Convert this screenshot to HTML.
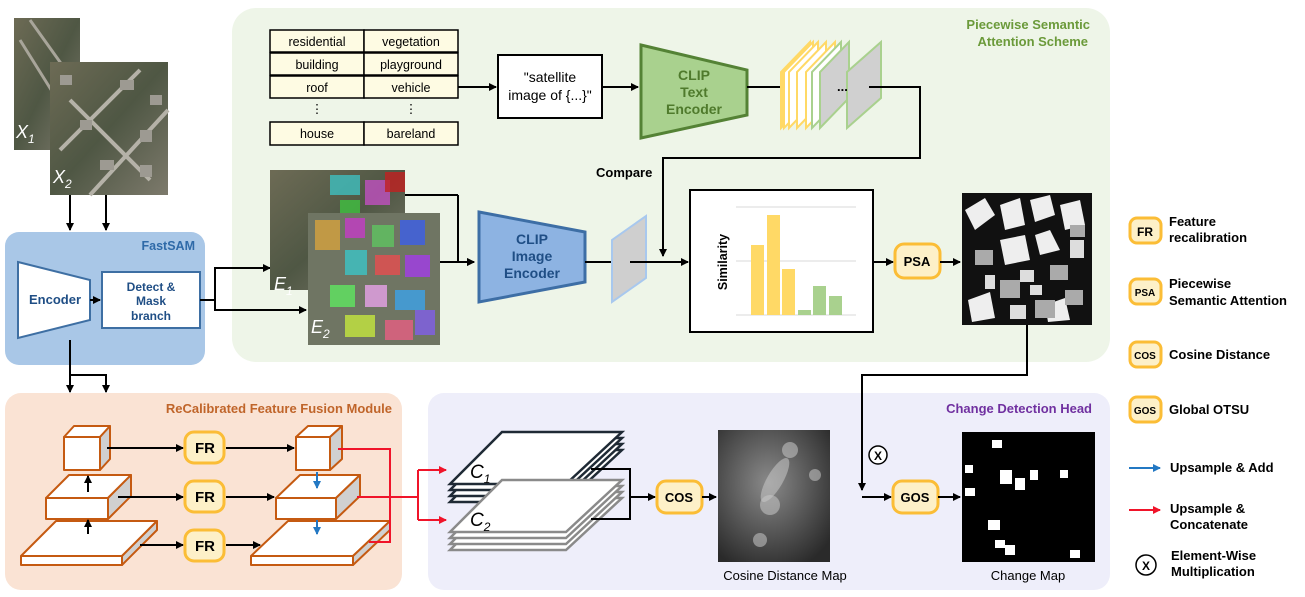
<!DOCTYPE html>
<html><head><meta charset="utf-8"><style>
body{margin:0;background:#fff}
svg{display:block}
text{font-family:"Liberation Sans",sans-serif}
.b{font-weight:bold}
</style></head><body>
<svg width="1305" height="597" viewBox="0 0 1305 597" xmlns="http://www.w3.org/2000/svg">
<defs>
<marker id="ak" markerWidth="8" markerHeight="8" refX="7" refY="4" orient="auto" markerUnits="userSpaceOnUse"><path d="M0,0 L8,4 L0,8z" fill="#000"/></marker>
<marker id="ar" markerWidth="8" markerHeight="8" refX="7" refY="4" orient="auto" markerUnits="userSpaceOnUse"><path d="M0,0 L8,4 L0,8z" fill="#f0142a"/></marker>
<marker id="ab" markerWidth="8" markerHeight="8" refX="7" refY="4" orient="auto" markerUnits="userSpaceOnUse"><path d="M0,0 L8,4 L0,8z" fill="#2378c3"/></marker>
<radialGradient id="cg" cx="0.45" cy="0.4" r="0.7"><stop offset="0" stop-color="#8a8a8a"/><stop offset="1" stop-color="#2a2a2a"/></radialGradient>
<linearGradient id="sat" x1="0" y1="0" x2="1" y2="1"><stop offset="0" stop-color="#6d6b55"/><stop offset="0.5" stop-color="#4f5744"/><stop offset="1" stop-color="#7d7a6c"/></linearGradient>
</defs>

<rect x="232" y="8" width="878" height="354" rx="24" fill="#eef5e8"/>
<rect x="5" y="232" width="200" height="133" rx="14" fill="#a9c7e7"/>
<rect x="5" y="393" width="397" height="197" rx="16" fill="#fae3d4"/>
<rect x="428" y="393" width="682" height="197" rx="16" fill="#eeeefa"/>

<text x="1090" y="29" text-anchor="end" class="b" font-size="13" fill="#6b9a3a">Piecewise Semantic</text>
<text x="1088" y="46" text-anchor="end" class="b" font-size="13" fill="#6b9a3a">Attention Scheme</text>
<text x="195" y="250" text-anchor="end" class="b" font-size="12.5" fill="#2f6aa8">FastSAM</text>
<text x="392" y="413" text-anchor="end" class="b" font-size="13" fill="#c0652a">ReCalibrated Feature Fusion Module</text>
<text x="1092" y="413" text-anchor="end" class="b" font-size="13" fill="#7030a0">Change Detection Head</text>

<rect x="14" y="18" width="66" height="132" fill="url(#sat)"/>
<path d="M20 40 L70 120 M30 20 L80 90" stroke="#a8a59a" stroke-width="3"/>
<text x="16" y="138" font-size="18" font-style="italic" fill="#fff" font-family="Liberation Serif">X<tspan font-size="12" dy="5">1</tspan></text>
<rect x="50" y="62" width="118" height="133" fill="url(#sat)"/>
<path d="M60 150 L140 70 M90 195 L168 110 M70 100 L150 180" stroke="#b5b2a8" stroke-width="4"/>
<g fill="#9d9a92"><rect x="120" y="80" width="14" height="10"/><rect x="140" y="130" width="12" height="12"/><rect x="80" y="120" width="12" height="10"/><rect x="100" y="160" width="14" height="10"/><rect x="140" y="165" width="12" height="12"/><rect x="60" y="75" width="12" height="10"/><rect x="150" y="95" width="12" height="10"/></g>
<text x="53" y="183" font-size="18" font-style="italic" fill="#fff" font-family="Liberation Serif">X<tspan font-size="12" dy="5">2</tspan></text>
<line x1="70" y1="195" x2="70" y2="230" stroke="#000" stroke-width="2" marker-end="url(#ak)"/>
<line x1="106" y1="195" x2="106" y2="230" stroke="#000" stroke-width="2" marker-end="url(#ak)"/>

<polygon points="18,262 90,280 90,320 18,338" fill="#fff" stroke="#3e6fa3" stroke-width="2"/>
<text x="55" y="304" text-anchor="middle" class="b" font-size="13" fill="#1f4e85">Encoder</text>
<line x1="90" y1="300" x2="100" y2="300" stroke="#000" stroke-width="2" marker-end="url(#ak)"/>
<rect x="102" y="272" width="98" height="56" fill="#fff" stroke="#3e6fa3" stroke-width="2"/>
<text x="151" y="291" text-anchor="middle" class="b" font-size="12" fill="#1f4e85">Detect &amp;</text>
<text x="151" y="305" text-anchor="middle" class="b" font-size="12" fill="#1f4e85">Mask</text>
<text x="151" y="320" text-anchor="middle" class="b" font-size="12" fill="#1f4e85">branch</text>
<path d="M200 300 H215 V268 H270" fill="none" stroke="#000" stroke-width="2" marker-end="url(#ak)"/>
<path d="M215 300 V310 H306" fill="none" stroke="#000" stroke-width="2" marker-end="url(#ak)"/>
<line x1="70" y1="340" x2="70" y2="392" stroke="#000" stroke-width="2" marker-end="url(#ak)"/>
<path d="M70 375 H106 V392" fill="none" stroke="#000" stroke-width="2" marker-end="url(#ak)"/>

<g stroke="#000" stroke-width="1.5" fill="#fefbe3">
<rect x="270" y="30" width="94" height="22"/><rect x="364" y="30" width="94" height="22"/>
<rect x="270" y="53" width="94" height="22"/><rect x="364" y="53" width="94" height="22"/>
<rect x="270" y="76" width="94" height="22"/><rect x="364" y="76" width="94" height="22"/>
<rect x="270" y="122" width="94" height="23"/><rect x="364" y="122" width="94" height="23"/>
</g>
<g font-size="12.5" text-anchor="middle" fill="#000">
<text x="317" y="46">residential</text><text x="411" y="46">vegetation</text>
<text x="317" y="69">building</text><text x="411" y="69">playground</text>
<text x="317" y="92">roof</text><text x="411" y="92">vehicle</text>
<text x="317" y="113">⋮</text><text x="411" y="113">⋮</text>
<text x="317" y="138">house</text><text x="411" y="138">bareland</text>
</g>
<line x1="458" y1="87" x2="496" y2="87" stroke="#000" stroke-width="2" marker-end="url(#ak)"/>
<rect x="498" y="55" width="104" height="63" fill="#fff" stroke="#000" stroke-width="2"/>
<text x="550" y="82" text-anchor="middle" font-size="14">"satellite</text>
<text x="550" y="100" text-anchor="middle" font-size="14">image of {...}"</text>
<line x1="602" y1="87" x2="638" y2="87" stroke="#000" stroke-width="2" marker-end="url(#ak)"/>

<polygon points="641,45 747,70 747,115 641,138" fill="#a9d18e" stroke="#548235" stroke-width="3"/>
<g text-anchor="middle" class="b" font-size="14" fill="#4f7a2c"><text x="694" y="80">CLIP</text><text x="694" y="97">Text</text><text x="694" y="114">Encoder</text></g>
<line x1="747" y1="87" x2="782" y2="87" stroke="#000" stroke-width="2"/>
<g stroke-width="2">
<polygon points="781,128 781,72 810,42 810,98" fill="#ffd966" stroke="#ffd966"/>
<polygon points="784,128 784,72 813,42 813,98" fill="#fff" stroke="#ffd966"/>
<polygon points="789,128 789,72 818,42 818,98" fill="#fff" stroke="#ffd966"/>
<polygon points="797,128 797,72 826,42 826,98" fill="#fff" stroke="#ffd966"/>
<polygon points="806,128 806,72 835,42 835,98" fill="#fff" stroke="#ffd966"/>
<polygon points="812,128 812,72 841,42 841,98" fill="#fff" stroke="#a9d18e"/>
<polygon points="820,128 820,72 849,42 849,98" fill="#d0d0d0" stroke="#a9d18e"/>
<polygon points="847,128 847,72 881,42 881,98" fill="#d0d0d0" stroke="#a9d18e"/>
</g>
<text x="837" y="91" font-size="13" class="b">...</text>
<path d="M869 87 H920 V158 H663 V256" fill="none" stroke="#000" stroke-width="2" marker-end="url(#ak)"/>
<text x="596" y="177" class="b" font-size="13">Compare</text>

<rect x="270" y="170" width="135" height="120" fill="url(#sat)"/>
<g fill-opacity="0.8"><rect x="330" y="175" width="30" height="20" fill="#3fbfbf"/><rect x="365" y="180" width="25" height="25" fill="#c050c0"/><rect x="385" y="172" width="20" height="20" fill="#c02020"/><rect x="340" y="200" width="20" height="18" fill="#40c040"/></g>
<text x="274" y="290" font-size="18" font-style="italic" fill="#fff" font-family="Liberation Serif">E<tspan font-size="12" dy="5">1</tspan></text>
<line x1="405" y1="195" x2="458" y2="195" stroke="#000" stroke-width="2"/>
<path d="M458 195 V262 H474" fill="none" stroke="#000" stroke-width="2" marker-end="url(#ak)"/>
<rect x="308" y="213" width="132" height="132" fill="#6f7563"/>
<g fill-opacity="0.85">
<rect x="315" y="220" width="25" height="30" fill="#d0a040"/><rect x="345" y="218" width="20" height="20" fill="#c040c0"/><rect x="372" y="225" width="22" height="22" fill="#60c060"/><rect x="400" y="220" width="25" height="25" fill="#4060e0"/>
<rect x="345" y="250" width="22" height="25" fill="#40c0c0"/><rect x="375" y="255" width="25" height="20" fill="#e05050"/><rect x="405" y="255" width="25" height="22" fill="#a040e0"/>
<rect x="330" y="285" width="25" height="22" fill="#60e060"/><rect x="365" y="285" width="22" height="22" fill="#e0a0e0"/><rect x="395" y="290" width="30" height="20" fill="#40a0e0"/>
<rect x="345" y="315" width="30" height="22" fill="#c0e040"/><rect x="385" y="320" width="28" height="20" fill="#e06080"/><rect x="415" y="310" width="20" height="25" fill="#8060e0"/>
</g>
<text x="311" y="333" font-size="18" font-style="italic" fill="#fff" font-family="Liberation Serif">E<tspan font-size="12" dy="5">2</tspan></text>
<line x1="440" y1="262" x2="474" y2="262" stroke="#000" stroke-width="2" marker-end="url(#ak)"/>

<polygon points="479,212 585,232 585,282 479,302" fill="#8db3e2" stroke="#3d6ea5" stroke-width="3"/>
<g text-anchor="middle" class="b" font-size="14" fill="#1f4e85"><text x="532" y="244">CLIP</text><text x="532" y="261">Image</text><text x="532" y="278">Encoder</text></g>
<line x1="585" y1="262" x2="614" y2="262" stroke="#000" stroke-width="2"/>
<polygon points="612,302 612,240 646,216 646,278" fill="#cfcfcf" stroke="#a8c8ee" stroke-width="2"/>
<line x1="630" y1="262" x2="688" y2="262" stroke="#000" stroke-width="2" marker-end="url(#ak)"/>

<rect x="690" y="190" width="183" height="142" fill="#fff" stroke="#000" stroke-width="2"/>
<g stroke="#dadada" stroke-width="1"><line x1="736" y1="207" x2="856" y2="207"/><line x1="736" y1="261" x2="856" y2="261"/><line x1="736" y1="315" x2="856" y2="315"/></g>
<g fill="#ffd966"><rect x="751" y="245" width="13" height="70"/><rect x="767" y="215" width="13" height="100"/><rect x="782" y="269" width="13" height="46"/></g>
<g fill="#a9d18e"><rect x="798" y="310" width="13" height="5"/><rect x="813" y="286" width="13" height="29"/><rect x="829" y="296" width="13" height="19"/></g>
<text transform="translate(727,262) rotate(-90)" text-anchor="middle" class="b" font-size="12.5">Similarity</text>
<line x1="873" y1="262" x2="893" y2="262" stroke="#000" stroke-width="2" marker-end="url(#ak)"/>
<rect x="895" y="244" width="45" height="34" rx="9" fill="#fdf0c8" stroke="#fbbd36" stroke-width="3"/>
<text x="917" y="266" text-anchor="middle" class="b" font-size="13">PSA</text>
<line x1="940" y1="262" x2="960" y2="262" stroke="#000" stroke-width="2" marker-end="url(#ak)"/>

<rect x="962" y="193" width="130" height="132" fill="#111"/>
<g fill="#eee"><polygon points="965,210 985,198 995,215 975,230"/><polygon points="1000,205 1020,198 1025,225 1005,230"/><polygon points="1030,200 1050,195 1055,215 1035,222"/><polygon points="1060,205 1080,200 1085,225 1065,230"/><polygon points="1000,240 1025,235 1030,260 1005,265"/><polygon points="1035,235 1050,230 1060,250 1040,255"/><polygon points="968,300 990,292 995,318 972,322"/><polygon points="1045,305 1065,298 1070,320 1048,322"/></g>
<g fill="#aaa"><rect x="975" y="250" width="18" height="15"/><rect x="1050" y="265" width="18" height="15"/><rect x="1000" y="280" width="20" height="18"/><rect x="1065" y="290" width="18" height="15"/><rect x="1035" y="300" width="20" height="18"/><rect x="1070" y="225" width="15" height="12"/></g>
<g fill="#ddd"><rect x="1020" y="270" width="14" height="12"/><rect x="985" y="275" width="10" height="14"/><rect x="1070" y="240" width="14" height="18"/><rect x="1010" y="305" width="16" height="14"/><rect x="1030" y="285" width="12" height="10"/></g>
<path d="M1027 325 V375 H862 V490" fill="none" stroke="#000" stroke-width="2" marker-end="url(#ak)"/>
<path d="M862 497 H891" fill="none" stroke="#000" stroke-width="2" marker-end="url(#ak)"/>

<g stroke="#c55a11" stroke-width="2" stroke-linejoin="round">
<polygon points="64,437 74,426 110,426 100,437" fill="#fff"/><polygon points="100,437 110,426 110,459 100,470" fill="#d0d0d0"/><rect x="64" y="437" width="36" height="33" fill="#fff"/>
<polygon points="46,498 69,475 131,475 108,498" fill="#fff"/><polygon points="108,498 131,475 131,496 108,519" fill="#d0d0d0"/><rect x="46" y="498" width="62" height="21" fill="#fff"/>
<polygon points="21,556 56,521 157,521 122,556" fill="#fff"/><polygon points="122,556 157,521 157,530 122,565" fill="#d0d0d0"/><rect x="21" y="556" width="101" height="9" fill="#fff"/>
<polygon points="296,437 308,426 342,426 330,437" fill="#fff"/><polygon points="330,437 342,426 342,459 330,470" fill="#d0d0d0"/><rect x="296" y="437" width="34" height="33" fill="#fff"/>
<polygon points="276,498 300,475 360,475 336,498" fill="#fff"/><polygon points="336,498 360,475 360,496 336,519" fill="#d0d0d0"/><rect x="276" y="498" width="60" height="21" fill="#fff"/>
<polygon points="251,556 288,521 390,521 353,556" fill="#fff"/><polygon points="353,556 390,521 390,530 353,565" fill="#d0d0d0"/><rect x="251" y="556" width="102" height="9" fill="#fff"/>
</g>
<g stroke="#000" stroke-width="2">
<line x1="88" y1="492" x2="88" y2="476" marker-end="url(#ak)"/>
<line x1="88" y1="534" x2="88" y2="520" marker-end="url(#ak)"/>
<line x1="107" y1="448" x2="183" y2="448" marker-end="url(#ak)"/>
<line x1="226" y1="448" x2="294" y2="448" marker-end="url(#ak)"/>
<line x1="118" y1="497" x2="183" y2="497" marker-end="url(#ak)"/>
<line x1="226" y1="497" x2="274" y2="497" marker-end="url(#ak)"/>
<line x1="140" y1="545" x2="183" y2="545" marker-end="url(#ak)"/>
<line x1="226" y1="545" x2="260" y2="545" marker-end="url(#ak)"/>
</g>
<g stroke="#2378c3" stroke-width="2">
<line x1="317" y1="472" x2="317" y2="488" marker-end="url(#ab)"/>
<line x1="317" y1="520" x2="317" y2="534" marker-end="url(#ab)"/>
</g>
<g fill="#fdf0c8" stroke="#fbbd36" stroke-width="3">
<rect x="185" y="432" width="39" height="31" rx="9"/><rect x="185" y="481" width="39" height="31" rx="9"/><rect x="185" y="530" width="39" height="31" rx="9"/>
</g>
<g text-anchor="middle" class="b" font-size="15"><text x="205" y="453">FR</text><text x="205" y="502">FR</text><text x="205" y="551">FR</text></g>
<g stroke="#f0142a" stroke-width="2" fill="none">
<path d="M338 449 H390 V542 H369"/>
<path d="M357 497 H418"/>
<path d="M418 470 V520"/>
<path d="M418 470 H446" marker-end="url(#ar)"/>
<path d="M418 520 H446" marker-end="url(#ar)"/>
</g>

<g stroke-width="2.5" fill="#fff">
<g stroke="#1f2a35">
<polygon points="450,502 502,450 622,450 566,502"/><polygon points="450,496 502,444 622,444 566,496"/><polygon points="450,490 502,438 622,438 566,490"/><polygon points="450,484 502,432 622,432 566,484"/>
</g>
<g stroke="#8a8a8a">
<polygon points="450,550 502,498 622,498 566,550"/><polygon points="450,544 502,492 622,492 566,544"/><polygon points="450,538 502,486 622,486 566,538"/><polygon points="450,532 502,480 622,480 566,532"/>
</g>
</g>
<text x="470" y="478" font-size="19" font-style="italic" font-family="Liberation Serif">C<tspan font-size="12" dy="5">1</tspan></text>
<text x="470" y="526" font-size="19" font-style="italic" font-family="Liberation Serif">C<tspan font-size="12" dy="5">2</tspan></text>
<path d="M591 469 H630 V519 H591" fill="none" stroke="#000" stroke-width="2"/>
<line x1="630" y1="497" x2="655" y2="497" stroke="#000" stroke-width="2" marker-end="url(#ak)"/>
<rect x="657" y="481" width="45" height="32" rx="9" fill="#fdf0c8" stroke="#fbbd36" stroke-width="3"/>
<text x="679" y="502" text-anchor="middle" class="b" font-size="13">COS</text>
<line x1="702" y1="497" x2="716" y2="497" stroke="#000" stroke-width="2" marker-end="url(#ak)"/>
<rect x="718" y="430" width="112" height="132" fill="url(#cg)"/>
<g fill="#c8c8c8" fill-opacity="0.55"><circle cx="790" cy="450" r="8"/><circle cx="770" cy="505" r="10"/><circle cx="760" cy="540" r="7"/><circle cx="815" cy="475" r="6"/><ellipse cx="775" cy="480" rx="8" ry="25" transform="rotate(30 775 480)"/></g>
<text x="785" y="580" text-anchor="middle" font-size="13">Cosine Distance Map</text>
<circle cx="878" cy="455" r="9" fill="#fff" stroke="#000" stroke-width="1.5"/>
<text x="878" y="460" text-anchor="middle" font-size="12" class="b">X</text>
<rect x="893" y="481" width="45" height="32" rx="9" fill="#fdf0c8" stroke="#fbbd36" stroke-width="3"/>
<text x="915" y="502" text-anchor="middle" class="b" font-size="13">GOS</text>
<line x1="938" y1="497" x2="960" y2="497" stroke="#000" stroke-width="2" marker-end="url(#ak)"/>
<rect x="962" y="432" width="133" height="130" fill="#000"/>
<g fill="#fff"><rect x="965" y="465" width="8" height="8"/><rect x="992" y="440" width="10" height="8"/><rect x="1000" y="470" width="12" height="14"/><rect x="1015" y="478" width="10" height="12"/><rect x="1030" y="470" width="8" height="10"/><rect x="965" y="488" width="10" height="8"/><rect x="988" y="520" width="12" height="10"/><rect x="995" y="540" width="10" height="8"/><rect x="1005" y="545" width="10" height="10"/><rect x="1070" y="550" width="10" height="8"/><rect x="1060" y="470" width="8" height="8"/></g>
<text x="1028" y="580" text-anchor="middle" font-size="13">Change Map</text>

<g fill="#fdf0c8" stroke="#fbbd36" stroke-width="3">
<rect x="1130" y="218" width="31" height="25" rx="7"/><rect x="1130" y="279" width="31" height="25" rx="7"/><rect x="1130" y="342" width="31" height="25" rx="7"/><rect x="1130" y="397" width="31" height="25" rx="7"/>
</g>
<g text-anchor="middle" class="b"><text x="1145" y="236" font-size="12">FR</text><text x="1145" y="296" font-size="10">PSA</text><text x="1145" y="359" font-size="10">COS</text><text x="1145" y="414" font-size="10">GOS</text></g>
<g class="b" font-size="13">
<text x="1169" y="226">Feature</text><text x="1169" y="242">recalibration</text>
<text x="1169" y="288">Piecewise</text><text x="1169" y="305">Semantic Attention</text>
<text x="1169" y="359">Cosine Distance</text>
<text x="1169" y="414">Global OTSU</text>
<text x="1170" y="472">Upsample &amp; Add</text>
<text x="1170" y="513">Upsample &amp;</text><text x="1170" y="529">Concatenate</text>
<text x="1171" y="560">Element-Wise</text><text x="1171" y="576">Multiplication</text>
</g>
<line x1="1129" y1="468" x2="1160" y2="468" stroke="#2378c3" stroke-width="2" marker-end="url(#ab)"/>
<line x1="1129" y1="510" x2="1160" y2="510" stroke="#f0142a" stroke-width="2" marker-end="url(#ar)"/>
<circle cx="1146" cy="565" r="10" fill="#fff" stroke="#000" stroke-width="1.5"/>
<text x="1146" y="570" text-anchor="middle" font-size="12" class="b">X</text>
</svg>
</body></html>
